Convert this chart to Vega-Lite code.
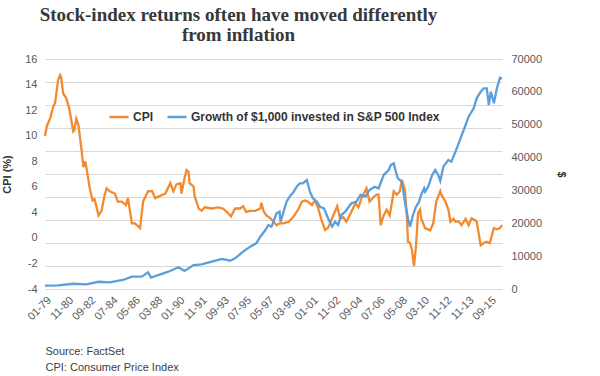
{
"$schema": "https://vega.github.io/schema/vega-lite/v6.json",
"width": 457, "height": 230,
"autosize": "none",
"padding": {"left": 45, "top": 59, "right": 98, "bottom": 87},
"background": "white",
"config": {"font": "Liberation Sans", "view": {"stroke": null}},
"title": {"text": ["Stock-index returns often have moved differently", "from inflation"], "font": "Liberation Serif", "fontSize": 19, "fontWeight": "bold", "color": "#383838", "anchor": "middle", "frame": "group", "dx": -35, "lineHeight": 20, "offset": 8},
"datasets": {
"cpi": [
{"date":"1979-01","cpi":9.3},{"date":"1979-03","cpi":10.2},{"date":"1979-06","cpi":10.8},{"date":"1979-09","cpi":11.8},{"date":"1979-11","cpi":12.2},
{"date":"1980-02","cpi":14.2},{"date":"1980-04","cpi":14.6},{"date":"1980-05","cpi":14.4},{"date":"1980-07","cpi":13.0},{"date":"1980-10","cpi":12.6},
{"date":"1981-01","cpi":11.7},{"date":"1981-05","cpi":9.7},{"date":"1981-06","cpi":9.8},{"date":"1981-08","cpi":10.8},{"date":"1981-10","cpi":10.3},
{"date":"1982-01","cpi":8.2},{"date":"1982-03","cpi":6.6},{"date":"1982-05","cpi":7.1},{"date":"1982-09","cpi":4.9},{"date":"1982-12","cpi":3.7},
{"date":"1983-02","cpi":3.8},{"date":"1983-06","cpi":2.4},{"date":"1983-09","cpi":2.8},{"date":"1983-12","cpi":4.2},
{"date":"1984-02","cpi":4.75},{"date":"1984-05","cpi":4.5},{"date":"1984-10","cpi":4.3},
{"date":"1985-01","cpi":3.6},{"date":"1985-05","cpi":3.6},{"date":"1985-09","cpi":3.3},{"date":"1985-11","cpi":3.9},
{"date":"1986-03","cpi":1.7},{"date":"1986-06","cpi":1.7},{"date":"1986-11","cpi":1.3},
{"date":"1987-02","cpi":3.6},{"date":"1987-07","cpi":4.5},{"date":"1987-11","cpi":4.5},
{"date":"1988-02","cpi":3.9},{"date":"1988-07","cpi":4.1},{"date":"1988-12","cpi":4.3},
{"date":"1989-05","cpi":5.2},{"date":"1989-08","cpi":4.5},{"date":"1989-11","cpi":5.1},
{"date":"1990-03","cpi":5.2},{"date":"1990-04","cpi":4.3},{"date":"1990-07","cpi":5.6},{"date":"1990-09","cpi":6.35},{"date":"1990-11","cpi":6.2},{"date":"1990-12","cpi":5.2},
{"date":"1991-04","cpi":4.9},{"date":"1991-05","cpi":4.1},{"date":"1991-09","cpi":3.0},{"date":"1991-12","cpi":2.8},
{"date":"1992-03","cpi":3.1},{"date":"1992-10","cpi":3.0},
{"date":"1993-04","cpi":3.1},{"date":"1993-09","cpi":3.0},
{"date":"1994-02","cpi":2.6},{"date":"1994-05","cpi":2.3},{"date":"1994-09","cpi":3.0},
{"date":"1995-02","cpi":3.0},{"date":"1995-05","cpi":3.2},{"date":"1995-08","cpi":2.7},{"date":"1995-12","cpi":2.8},
{"date":"1996-05","cpi":2.8},{"date":"1996-10","cpi":3.0},{"date":"1996-11","cpi":3.5},
{"date":"1997-01","cpi":2.8},{"date":"1997-04","cpi":2.4},{"date":"1997-08","cpi":2.15},{"date":"1997-11","cpi":1.85},
{"date":"1998-02","cpi":1.55},{"date":"1998-05","cpi":1.7},{"date":"1998-09","cpi":1.7},
{"date":"1999-02","cpi":1.85},{"date":"1999-07","cpi":2.3},{"date":"1999-12","cpi":3.0},
{"date":"2000-03","cpi":3.6},{"date":"2000-06","cpi":3.7},{"date":"2000-09","cpi":3.6},
{"date":"2001-01","cpi":3.3},{"date":"2001-04","cpi":3.7},{"date":"2001-07","cpi":3.1},{"date":"2001-11","cpi":1.85},
{"date":"2002-02","cpi":1.13},{"date":"2002-05","cpi":1.3},{"date":"2002-09","cpi":2.15},
{"date":"2003-02","cpi":3.2},{"date":"2003-05","cpi":2.1},{"date":"2003-08","cpi":2.25},{"date":"2003-11","cpi":1.85},
{"date":"2004-04","cpi":2.7},{"date":"2004-08","cpi":3.45},{"date":"2004-11","cpi":3.1},
{"date":"2005-02","cpi":3.9},{"date":"2005-07","cpi":4.75},{"date":"2005-10","cpi":3.6},
{"date":"2006-02","cpi":4.0},{"date":"2006-05","cpi":4.2},{"date":"2006-07","cpi":4.2},{"date":"2006-09","cpi":1.56},{"date":"2006-12","cpi":2.4},
{"date":"2007-03","cpi":2.9},{"date":"2007-06","cpi":2.4},{"date":"2007-10","cpi":4.5},
{"date":"2008-01","cpi":4.2},{"date":"2008-04","cpi":4.5},{"date":"2008-06","cpi":5.5},{"date":"2008-09","cpi":4.6},{"date":"2008-11","cpi":2.15},{"date":"2008-12","cpi":0.1},
{"date":"2009-02","cpi":0.0},{"date":"2009-04","cpi":-0.6},{"date":"2009-06","cpi":-2.0},{"date":"2009-08","cpi":-0.2},{"date":"2009-10","cpi":2.6},{"date":"2009-12","cpi":2.9},
{"date":"2010-01","cpi":2.15},{"date":"2010-05","cpi":1.3},{"date":"2010-10","cpi":1.1},
{"date":"2011-01","cpi":1.7},{"date":"2011-04","cpi":3.6},{"date":"2011-08","cpi":4.5},{"date":"2011-09","cpi":4.2},
{"date":"2012-01","cpi":3.6},{"date":"2012-04","cpi":2.9},{"date":"2012-06","cpi":1.85},{"date":"2012-09","cpi":2.1},{"date":"2012-11","cpi":1.85},
{"date":"2013-02","cpi":1.9},{"date":"2013-05","cpi":1.55},{"date":"2013-09","cpi":2.1},{"date":"2013-12","cpi":1.55},
{"date":"2014-03","cpi":2.15},{"date":"2014-06","cpi":2.0},{"date":"2014-08","cpi":1.85},{"date":"2014-12","cpi":-0.2},
{"date":"2015-03","cpi":0.0},{"date":"2015-06","cpi":0.1},{"date":"2015-09","cpi":0.0},
{"date":"2016-01","cpi":1.3},{"date":"2016-04","cpi":1.2},{"date":"2016-07","cpi":1.3},{"date":"2016-09","cpi":1.55}
],
"sp": [
{"date":"1979-01","sp":1000},{"date":"1980-02","sp":1100},{"date":"1981-05","sp":1600},{"date":"1982-06","sp":1400},{"date":"1983-06","sp":2200},
{"date":"1984-05","sp":2000},{"date":"1985-06","sp":2740},{"date":"1986-03","sp":3750},{"date":"1986-06","sp":3740},{"date":"1986-11","sp":3750},
{"date":"1987-01","sp":3850},{"date":"1987-07","sp":5070},{"date":"1987-10","sp":3450},{"date":"1988-05","sp":4250},{"date":"1989-03","sp":5270},
{"date":"1990-01","sp":6600},{"date":"1990-07","sp":5480},{"date":"1991-04","sp":7300},{"date":"1991-12","sp":7500},{"date":"1992-10","sp":8300},
{"date":"1993-08","sp":9130},{"date":"1994-02","sp":8800},{"date":"1994-04","sp":8620},{"date":"1994-09","sp":9330},{"date":"1995-05","sp":11360},
{"date":"1995-12","sp":12880},{"date":"1996-06","sp":13900},{"date":"1996-10","sp":15920},{"date":"1997-03","sp":17960},{"date":"1997-06","sp":19480},
{"date":"1997-09","sp":18970},{"date":"1997-11","sp":20480},{"date":"1998-02","sp":23040},{"date":"1998-05","sp":23550},{"date":"1998-06","sp":20480},
{"date":"1998-09","sp":23550},{"date":"1998-12","sp":26570},{"date":"1999-03","sp":28090},{"date":"1999-07","sp":29610},{"date":"1999-10","sp":31130},
{"date":"2000-01","sp":32170},{"date":"2000-04","sp":32170},{"date":"2000-08","sp":33170},{"date":"2000-11","sp":29610},{"date":"2001-02","sp":27600},
{"date":"2001-06","sp":26570},{"date":"2001-09","sp":25000},{"date":"2002-01","sp":24500},{"date":"2002-05","sp":21520},{"date":"2002-09","sp":18970},
{"date":"2002-12","sp":20480},{"date":"2003-03","sp":19480},{"date":"2003-06","sp":22520},{"date":"2003-10","sp":23520},{"date":"2004-04","sp":26080},
{"date":"2004-09","sp":26570},{"date":"2005-01","sp":28610},{"date":"2005-06","sp":28100},{"date":"2005-10","sp":30130},{"date":"2006-03","sp":31130},
{"date":"2006-07","sp":30620},{"date":"2006-12","sp":34700},{"date":"2007-05","sp":36220},{"date":"2007-07","sp":37730},{"date":"2007-10","sp":38260},
{"date":"2007-12","sp":35700},{"date":"2008-02","sp":33690},{"date":"2008-06","sp":32670},{"date":"2008-09","sp":26570},{"date":"2008-12","sp":21520},
{"date":"2009-02","sp":18970},{"date":"2009-05","sp":22520},{"date":"2009-08","sp":25050},{"date":"2009-11","sp":26570},{"date":"2010-01","sp":28610},
{"date":"2010-04","sp":30640},{"date":"2010-05","sp":29610},{"date":"2010-08","sp":31130},{"date":"2010-12","sp":34700},{"date":"2011-03","sp":36220},
{"date":"2011-06","sp":34700},{"date":"2011-08","sp":32870},{"date":"2011-11","sp":37230},{"date":"2012-04","sp":39260},{"date":"2012-07","sp":38750},
{"date":"2012-11","sp":41790},{"date":"2013-04","sp":45860},{"date":"2013-09","sp":49910},{"date":"2013-12","sp":52440},{"date":"2014-05","sp":54990},
{"date":"2014-08","sp":58040},{"date":"2014-12","sp":60050},{"date":"2015-03","sp":61080},{"date":"2015-06","sp":61080},{"date":"2015-08","sp":56000},
{"date":"2015-10","sp":60050},{"date":"2016-01","sp":56520},{"date":"2016-04","sp":61080},{"date":"2016-07","sp":64300},{"date":"2016-09","sp":64000}
]
},
"encoding": {
"x": {"field": "date", "type": "temporal",
 "scale": {"type": "utc", "domain": [{"year":1979,"month":1,"utc":true},{"year":2016,"month":9,"utc":true}]},
 "axis": {"values": [{"year":1979,"month":1,"utc":true},{"year":1980,"month":11,"utc":true},{"year":1982,"month":9,"utc":true},{"year":1984,"month":7,"utc":true},{"year":1986,"month":5,"utc":true},{"year":1988,"month":3,"utc":true},{"year":1990,"month":1,"utc":true},{"year":1991,"month":11,"utc":true},{"year":1993,"month":9,"utc":true},{"year":1995,"month":7,"utc":true},{"year":1997,"month":5,"utc":true},{"year":1999,"month":3,"utc":true},{"year":2001,"month":1,"utc":true},{"year":2002,"month":11,"utc":true},{"year":2004,"month":9,"utc":true},{"year":2006,"month":7,"utc":true},{"year":2008,"month":5,"utc":true},{"year":2010,"month":3,"utc":true},{"year":2012,"month":1,"utc":true},{"year":2013,"month":11,"utc":true},{"year":2015,"month":9,"utc":true}],
  "labelExpr": "utcFormat(datum.value, '%m-%y') == '01-12' ? '11-12' : utcFormat(datum.value, '%m-%y')",
  "labelAngle": -45, "labelFontSize": 11, "labelColor": "#595959", "labelPadding": 5, "labelFlush": false, "labelOverlap": false,
  "ticks": false, "domain": false, "grid": false,
  "title": ["Source: FactSet", "CPI: Consumer Price Index"], "titleAnchor": "start", "titleAlign": "left", "titleFontSize": 11, "titleFontWeight": "normal", "titleColor": "#404040", "titleLineHeight": 16, "titlePadding": 24}}
},
"layer": [
 {
  "data": {"name": "cpi"},
  "layer": [
   {"mark": {"type": "line", "opacity": 0},
    "encoding": {"y": {"field": "cpi", "type": "quantitative", "scale": {"domain": [-4, 16], "nice": false, "zero": false},
     "axis": {"orient": "left", "values": [-4,-2,0,2,4,6,8,10,12,14,16], "grid": true, "gridColor": "#d9d9d9", "gridWidth": 1, "labels": false, "ticks": false, "domain": false, "title": null}}}},
   {"mark": {"type": "line", "strokeWidth": 2.3},
    "encoding": {"y": {"field": "cpi", "type": "quantitative",
     "axis": {"orient": "left", "grid": false, "values": [16, 13.7778, 11.5556, 9.3333, 7.1111, 4.8889, 2.6667, 0.4444, -1.7778, -4],
      "labelExpr": "['16','14','12','10','8','6','4','0','-2','-4'][round((16 - datum.value) * 9 / 20)]",
      "ticks": false, "domain": false, "labelPadding": 8, "labelFontSize": 11, "labelColor": "#595959", "labelFlush": false, "labelOverlap": false,
      "title": "CPI (%)", "titleFontSize": 11, "titleFontWeight": "bold", "titleColor": "#333333", "titlePadding": 12}},
     "color": {"datum": "CPI", "type": "nominal",
      "scale": {"domain": ["CPI", "Growth of $1,000 invested in S&P 500 Index"], "range": ["#F28A30", "#5A9FDB"]},
      "legend": {"orient": "none", "legendX": 63, "legendY": 47, "direction": "horizontal", "title": null, "symbolType": "stroke", "symbolSize": 361, "symbolStrokeWidth": 2.5, "labelFontSize": 12, "labelFontWeight": "bold", "labelColor": "#333333", "labelOffset": 3, "labelLimit": 0, "columnPadding": 8, "padding": 0}}}}
  ],
  "resolve": {"axis": {"y": "independent"}}
 },
 {
  "data": {"name": "sp"},
  "mark": {"type": "line", "strokeWidth": 2.3},
  "encoding": {
   "y": {"field": "sp", "type": "quantitative", "scale": {"domain": [0, 70000], "nice": false},
    "axis": {"orient": "right", "values": [0,10000,20000,30000,40000,50000,60000,70000], "format": "d", "grid": false, "ticks": false, "domain": false, "labelPadding": 9, "labelFontSize": 11, "labelColor": "#595959", "labelFlush": false, "labelOverlap": false,
     "title": "$", "titleFontSize": 11, "titleFontWeight": "bold", "titleColor": "#333333", "titlePadding": 14}},
   "color": {"datum": "Growth of $1,000 invested in S&P 500 Index", "type": "nominal"}
  }
 }
],
"resolve": {"scale": {"y": "independent"}}
}
